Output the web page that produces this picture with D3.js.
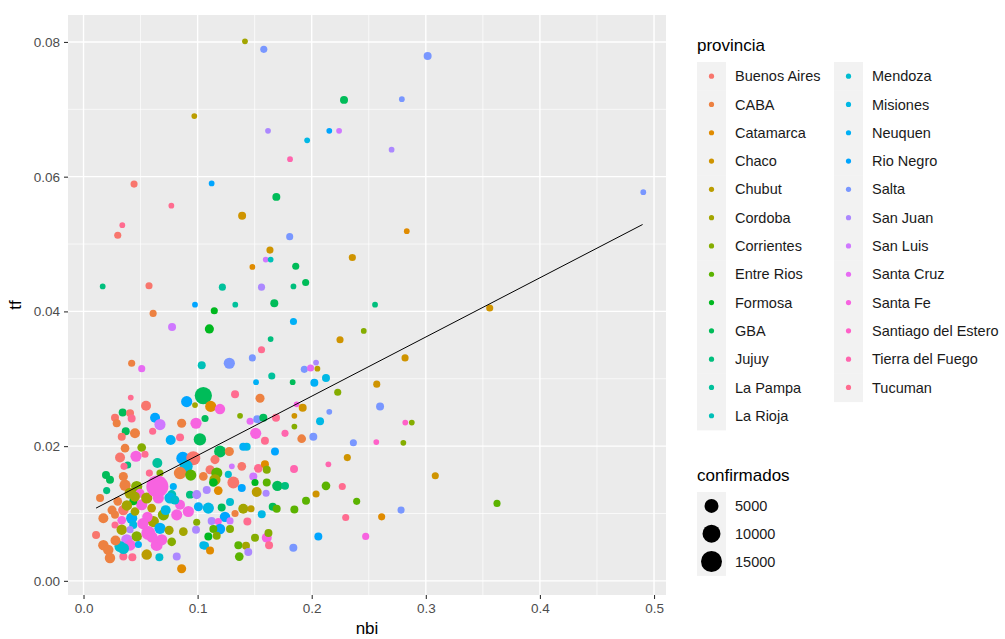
<!DOCTYPE html>
<html>
<head>
<meta charset="utf-8">
<script src="https://cdn.jsdelivr.net/npm/d3@7"></script>
<style>
  body { margin: 0; background: #fff; }
  text { font-family: "Liberation Sans", Arial, sans-serif; }
</style>
</head>
<body>
<svg id="chart" width="1005" height="639"></svg>
<script>
// Legend categories (ggplot factor order)
const provincias = ["Buenos Aires", "CABA", "Catamarca", "Chaco", "Chubut", "Cordoba",
  "Corrientes", "Entre Rios", "Formosa", "GBA", "Jujuy", "La Pampa", "La Rioja",
  "Mendoza", "Misiones", "Neuquen", "Rio Negro", "Salta", "San Juan", "San Luis",
  "Santa Cruz", "Santa Fe", "Santiago del Estero", "Tierra del Fuego", "Tucuman"];

// [nbi, tf, provincia, confirmados]
const puntos = [
  [0.1415, 0.0801, "Cordoba", 100], [0.158, 0.0789, "Salta", 400], [0.0971, 0.0690, "Chubut", 100],
  [0.1617, 0.0668, "San Juan", 100], [0.196, 0.0654, "Misiones", 100], [0.2154, 0.0668, "Rio Negro", 100],
  [0.224, 0.0668, "San Luis", 100], [0.181, 0.0626, "Tierra del Fuego", 100], [0.0443, 0.0589, "Buenos Aires", 400],
  [0.1123, 0.0590, "Rio Negro", 100], [0.169, 0.0570, "GBA", 700], [0.077, 0.0557, "Tucuman", 100],
  [0.139, 0.0542, "Chaco", 700], [0.034, 0.0528, "Tucuman", 100], [0.030, 0.0513, "Buenos Aires", 400],
  [0.1807, 0.0511, "Salta", 400], [0.1634, 0.0491, "Chaco", 400], [0.1597, 0.0477, "San Luis", 100],
  [0.164, 0.0477, "La Rioja", 100], [0.148, 0.0466, "Catamarca", 100], [0.186, 0.0467, "GBA", 400],
  [0.0168, 0.0437, "Jujuy", 100], [0.0574, 0.0438, "Buenos Aires", 400], [0.1217, 0.0436, "La Pampa", 400],
  [0.156, 0.0436, "San Juan", 400], [0.184, 0.0437, "Jujuy", 100], [0.1947, 0.0443, "GBA", 400],
  [0.0977, 0.0410, "Rio Negro", 100], [0.133, 0.0410, "La Pampa", 100], [0.1672, 0.0412, "GBA", 700],
  [0.1146, 0.0401, "Formosa", 400], [0.061, 0.0397, "CABA", 400], [0.184, 0.0385, "Neuquen", 400],
  [0.3016, 0.0779, "Salta", 700], [0.2283, 0.0714, "GBA", 700], [0.279, 0.0715, "Salta", 100],
  [0.270, 0.0640, "San Juan", 100], [0.4906, 0.0577, "Salta", 100], [0.2833, 0.0519, "Catamarca", 100],
  [0.2356, 0.0480, "Chaco", 400], [0.2555, 0.0410, "Jujuy", 100], [0.356, 0.0405, "Chaco", 400],
  [0.2456, 0.0371, "Corrientes", 100], [0.2248, 0.0358, "Chaco", 400], [0.2818, 0.0331, "Chaco", 400],
  [0.257, 0.0292, "Chaco", 400], [0.2228, 0.0280, "Corrientes", 400], [0.2154, 0.0251, "Salta", 100],
  [0.2599, 0.0259, "Salta", 700], [0.282, 0.0235, "Santiago del Estero", 100], [0.2877, 0.0235, "Corrientes", 100],
  [0.2365, 0.0205, "Salta", 400], [0.2566, 0.0206, "Santiago del Estero", 100], [0.2803, 0.0205, "Corrientes", 100],
  [0.2312, 0.0183, "Chaco", 400], [0.3083, 0.0156, "Chaco", 400], [0.2268, 0.0140, "Tucuman", 400],
  [0.2394, 0.0118, "Entre Rios", 400], [0.3624, 0.0115, "Entre Rios", 400], [0.2783, 0.0105, "Salta", 400],
  [0.2298, 0.0094, "Tucuman", 400], [0.2613, 0.0095, "Catamarca", 400], [0.2473, 0.0066, "Santa Fe", 400],
  [0.0776, 0.0377, "San Luis", 700], [0.0422, 0.0323, "CABA", 400], [0.051, 0.0315, "Santa Cruz", 400],
  [0.1036, 0.0320, "La Rioja", 700], [0.0414, 0.0272, "Tucuman", 100], [0.0548, 0.0260, "Buenos Aires", 1700],
  [0.0904, 0.0266, "Rio Negro", 2500], [0.0977, 0.0261, "Cordoba", 100],
  [0.1103, 0.0374, "Formosa", 1200], [0.164, 0.0359, "Jujuy", 100], [0.156, 0.0343, "Tucuman", 400],
  [0.148, 0.0331, "Salta", 400], [0.1278, 0.0323, "Salta", 2500], [0.1935, 0.0314, "Salta", 400],
  [0.199, 0.0316, "Santa Cruz", 400], [0.2038, 0.0324, "San Juan", 100], [0.205, 0.0315, "Chubut", 100],
  [0.165, 0.0304, "La Pampa", 400], [0.1512, 0.0295, "Neuquen", 100], [0.1833, 0.0295, "GBA", 100],
  [0.2023, 0.0294, "Neuquen", 700], [0.2125, 0.0301, "Misiones", 700], [0.105, 0.0275, "GBA", 9000],
  [0.1328, 0.0277, "Tucuman", 700], [0.1547, 0.0271, "CABA", 1200], [0.1115, 0.0259, "Catamarca", 2500],
  [0.1196, 0.0255, "Santa Fe", 2000], [0.1868, 0.0262, "Santa Fe", 100], [0.1921, 0.0257, "Chaco", 700],
  [0.0343, 0.0250, "GBA", 700], [0.0276, 0.0242, "Buenos Aires", 700], [0.0408, 0.0249, "Buenos Aires", 700],
  [0.0422, 0.0241, "Tucuman", 700], [0.0291, 0.0234, "CABA", 700], [0.0627, 0.0242, "Rio Negro", 1700],
  [0.067, 0.0232, "San Luis", 2500], [0.086, 0.0234, "CABA", 1200], [0.0986, 0.0234, "Santa Fe", 2500],
  [0.037, 0.0222, "GBA", 700], [0.0335, 0.0214, "Buenos Aires", 700], [0.0451, 0.0219, "CABA", 1700],
  [0.0606, 0.0222, "Tucuman", 400], [0.0764, 0.0209, "Neuquen", 1700], [0.0846, 0.0213, "Tucuman", 700],
  [0.102, 0.0210, "GBA", 3500], [0.0364, 0.0197, "CABA", 1000], [0.051, 0.0198, "Corrientes", 1000],
  [0.032, 0.0183, "Buenos Aires", 1700], [0.046, 0.0185, "Santa Fe", 2500], [0.0539, 0.0188, "Tucuman", 400],
  [0.0387, 0.0172, "Jujuy", 400], [0.0355, 0.0170, "Tucuman", 400], [0.0647, 0.0175, "La Pampa", 1700],
  [0.087, 0.0182, "Rio Negro", 4000], [0.0962, 0.0182, "Buenos Aires", 5000], [0.090, 0.0170, "Misiones", 4000],
  [0.0577, 0.0160, "Tucuman", 400], [0.067, 0.0160, "Corrientes", 400], [0.0846, 0.0160, "CABA", 3500],
  [0.094, 0.0157, "Entre Rios", 2500], [0.0197, 0.0157, "GBA", 700], [0.0232, 0.0150, "GBA", 700],
  [0.0349, 0.0155, "CABA", 1200], [0.0364, 0.0142, "CABA", 2500], [0.0466, 0.0140, "Corrientes", 2500],
  [0.0787, 0.0140, "Neuquen", 400], [0.0203, 0.0134, "Jujuy", 400],
  [0.0408, 0.0130, "Cordoba", 2500], [0.0495, 0.0130, "Santa Fe", 1200], [0.0773, 0.0128, "La Rioja", 1200],
  [0.0933, 0.0128, "Jujuy", 700], [0.0992, 0.0128, "San Juan", 1200], [0.0145, 0.0123, "CABA", 700],
  [0.1065, 0.0241, "GBA", 400], [0.1372, 0.0245, "Corrientes", 100], [0.146, 0.0237, "Santa Cruz", 400],
  [0.1523, 0.0240, "Salta", 700], [0.1576, 0.0242, "GBA", 700], [0.1687, 0.0242, "Tucuman", 700],
  [0.1848, 0.0245, "Chaco", 100], [0.1848, 0.0229, "Corrientes", 100], [0.2073, 0.0237, "Misiones", 700],
  [0.1509, 0.0219, "Santa Fe", 2500], [0.159, 0.0208, "Tucuman", 700], [0.1766, 0.0219, "Tierra del Fuego", 400],
  [0.1912, 0.0211, "CABA", 1000], [0.2014, 0.0214, "Salta", 700], [0.143, 0.0199, "Misiones", 700],
  [0.14, 0.0199, "Neuquen", 700], [0.1678, 0.0192, "Rio Negro", 700], [0.1196, 0.0192, "GBA", 3000],
  [0.1278, 0.0192, "CABA", 1200], [0.1152, 0.0180, "Buenos Aires", 1200], [0.13, 0.0170, "San Luis", 100],
  [0.1387, 0.0170, "Buenos Aires", 1000], [0.1532, 0.0167, "Tucuman", 1000], [0.159, 0.0173, "Catamarca", 700],
  [0.1606, 0.0165, "Corrientes", 700], [0.1845, 0.0166, "Tierra del Fuego", 700], [0.2146, 0.0173, "Tierra del Fuego", 100],
  [0.1109, 0.0165, "Buenos Aires", 1200], [0.1168, 0.0160, "Entre Rios", 2500], [0.1152, 0.0150, "Cordoba", 2500],
  [0.1269, 0.0158, "Mendoza", 400], [0.105, 0.0155, "CABA", 1000], [0.1488, 0.0155, "San Luis", 700],
  [0.1313, 0.0146, "Buenos Aires", 3000], [0.1138, 0.0146, "Formosa", 1000], [0.1503, 0.0146, "Formosa", 400],
  [0.1606, 0.0146, "Entre Rios", 700], [0.1699, 0.0141, "GBA", 2000], [0.1766, 0.0141, "Jujuy", 700],
  [0.1387, 0.0138, "Rio Negro", 700], [0.108, 0.0135, "San Juan", 700], [0.1181, 0.0134, "Catamarca", 1000],
  [0.1518, 0.0132, "Chubut", 1700], [0.160, 0.0130, "San Juan", 400], [0.2038, 0.0129, "Chaco", 400],
  [0.2125, 0.0141, "Entre Rios", 1000],
  [0.0174, 0.0093, "CABA", 1700], [0.011, 0.0068, "Buenos Aires", 700], [0.0276, 0.0098, "CABA", 700],
  [0.0349, 0.0105, "Buenos Aires", 2000], [0.0335, 0.0090, "Santa Fe", 1000], [0.0276, 0.0083, "Tucuman", 400],
  [0.0422, 0.0093, "Neuquen", 2500], [0.0436, 0.0083, "Misiones", 700], [0.0335, 0.0076, "Cordoba", 2000],
  [0.0408, 0.0076, "San Juan", 400], [0.0451, 0.0103, "Cordoba", 1000], [0.051, 0.0113, "Santa Fe", 2500],
  [0.0436, 0.0118, "Formosa", 700], [0.0597, 0.0108, "Chubut", 1000], [0.0554, 0.0123, "Cordoba", 2500],
  [0.0656, 0.0123, "Santa Fe", 2500], [0.0758, 0.0123, "Misiones", 2500], [0.0612, 0.0088, "Cordoba", 2500],
  [0.067, 0.0078, "Neuquen", 2500], [0.0466, 0.0066, "Corrientes", 2000],
  [0.0379, 0.0061, "San Luis", 2500], [0.032, 0.0051, "Mendoza", 2500], [0.0408, 0.0053, "Santa Fe", 2500],
  [0.0481, 0.0054, "Neuquen", 400], [0.0641, 0.0053, "Santa Fe", 3000], [0.0685, 0.0061, "Santa Fe", 2500],
  [0.0174, 0.0053, "CABA", 2000], [0.0217, 0.0046, "CABA", 2000], [0.0232, 0.0034, "CABA", 2000],
  [0.0349, 0.0036, "Tucuman", 700], [0.0428, 0.0035, "Tucuman", 700], [0.0554, 0.0039, "Chubut", 2000],
  [0.0665, 0.0035, "Mendoza", 700], [0.0817, 0.0036, "San Juan", 700], [0.086, 0.0018, "Catamarca", 1200],
  [0.0773, 0.0058, "Corrientes", 1000], [0.0875, 0.0073, "Cordoba", 1000], [0.0986, 0.0076, "San Juan", 700],
  [0.0992, 0.0087, "Corrientes", 400], [0.1050, 0.0053, "Misiones", 700], [0.0817, 0.0098, "Santa Fe", 2500],
  [0.0919, 0.0103, "Santa Fe", 2500], [0.1007, 0.0110, "Neuquen", 1200], [0.0700, 0.0098, "Corrientes", 2500],
  [0.0846, 0.0113, "Santa Fe", 1700], [0.0568, 0.0071, "Santa Fe", 5000],
  [0.025, 0.0105, "CABA", 1200], [0.030, 0.0118, "CABA", 1000], [0.038, 0.0112, "Cordoba", 2000],
  [0.045, 0.0125, "Cordoba", 1700], [0.056, 0.0095, "Santa Fe", 2000], [0.052, 0.0085, "Santa Fe", 2500],
  [0.060, 0.0065, "Santa Fe", 2500], [0.075, 0.0075, "Cordoba", 1200], [0.072, 0.0105, "Misiones", 1700],
  [0.080, 0.0120, "Mendoza", 1200], [0.035, 0.0048, "Mendoza", 2500], [0.028, 0.0060, "CABA", 1700],
  [0.1094, 0.0108, "Misiones", 2500], [0.1211, 0.0109, "GBA", 700], [0.1284, 0.0117, "Mendoza", 700],
  [0.14, 0.0107, "Cordoba", 1700], [0.1468, 0.0107, "Chubut", 400], [0.1562, 0.0099, "Misiones", 700],
  [0.1658, 0.0110, "GBA", 700], [0.1693, 0.0107, "Entre Rios", 700], [0.1848, 0.0106, "Entre Rios", 700],
  [0.195, 0.0119, "Entre Rios", 700], [0.1328, 0.0100, "CABA", 400], [0.124, 0.0095, "Rio Negro", 2000],
  [0.1123, 0.0089, "San Juan", 700], [0.1181, 0.0088, "Santa Fe", 400], [0.1284, 0.0089, "San Luis", 400],
  [0.1436, 0.0088, "Tucuman", 700], [0.1196, 0.0077, "Rio Negro", 2000], [0.1138, 0.0077, "Entre Rios", 700],
  [0.1284, 0.0077, "Corrientes", 700], [0.1094, 0.0066, "Formosa", 700], [0.1167, 0.0067, "Corrientes", 700],
  [0.1503, 0.0064, "Corrientes", 700], [0.1606, 0.0064, "Santa Fe", 1700], [0.1621, 0.0071, "Corrientes", 700],
  [0.1626, 0.0053, "Tucuman", 700], [0.1065, 0.0052, "Misiones", 700], [0.1109, 0.0045, "Catamarca", 700],
  [0.1357, 0.0053, "Entre Rios", 700], [0.1424, 0.0052, "Cordoba", 700], [0.1365, 0.0036, "Entre Rios", 1000],
  [0.1444, 0.0043, "San Juan", 700], [0.1839, 0.0049, "Salta", 700], [0.2058, 0.0066, "Rio Negro", 700],
  [0.0647, 0.0140, "Santa Fe", 17000]
];

// fitted line (lm) end points
const ajusteNbi = [0.011, 0.49];
const ajusteTf = [0.0108, 0.0529];

const xTicks = [0, 0.1, 0.2, 0.3, 0.4, 0.5];
const xMinor = [0.05, 0.15, 0.25, 0.35, 0.45];
const yTicks = [0, 0.02, 0.04, 0.06, 0.08];
const yMinor = [0.01, 0.03, 0.05, 0.07];
const tallas = [5000, 10000, 15000];

// R's hcl(): polar CIE-LUV -> sRGB, used for ggplot's default hue palette
function hclLuv(h, c, l) {
  const un = 0.1978398, vn = 0.4683363;
  const hr = h * Math.PI / 180;
  const U = c * Math.cos(hr), V = c * Math.sin(hr);
  const Y = l > 7.999592 ? 100 * Math.pow((l + 16) / 116, 3) : 100 * l / 903.3;
  const u = U / (13 * l) + un, v = V / (13 * l) + vn;
  const X = 9 * Y * u / (4 * v);
  const Z = -X / 3 - 5 * Y + 3 * Y / v;
  const g = t => {
    t = t > 0.00304 ? 1.055 * Math.pow(t, 1 / 2.4) - 0.055 : 12.92 * t;
    return Math.round(255 * Math.max(0, Math.min(1, t)));
  };
  return d3.rgb(g((3.240479 * X - 1.537150 * Y - 0.498535 * Z) / 100),
                g((-0.969256 * X + 1.875992 * Y + 0.041556 * Z) / 100),
                g((0.055648 * X - 0.204043 * Y + 1.057311 * Z) / 100)).formatHex();
}

const n = provincias.length;
const color = d3.scaleOrdinal()
  .domain(provincias)
  .range(provincias.map((p, i) => hclLuv(15 + i * 360 / n, 100, 65)));

const panel = { left: 68, right: 666, top: 15, bottom: 595 };

const x = d3.scaleLinear().domain([-0.0136, 0.5105]).range([panel.left, panel.right]);
const y = d3.scaleLinear().domain([-0.0021, 0.0840]).range([panel.bottom, panel.top]);
const r = d3.scaleSqrt().domain([0, 15000]).range([2.2, 10.5]);

const svg = d3.select('#chart');

// panel background + grid
svg.append('rect')
  .attr('x', panel.left).attr('y', panel.top)
  .attr('width', panel.right - panel.left).attr('height', panel.bottom - panel.top)
  .attr('fill', '#EBEBEB');

const grid = svg.append('g');
grid.selectAll('.xmin').data(xMinor).join('line')
  .attr('x1', d => x(d)).attr('x2', d => x(d))
  .attr('y1', panel.top).attr('y2', panel.bottom)
  .attr('stroke', '#fff').attr('stroke-width', 0.7);
grid.selectAll('.ymin').data(yMinor).join('line')
  .attr('y1', d => y(d)).attr('y2', d => y(d))
  .attr('x1', panel.left).attr('x2', panel.right)
  .attr('stroke', '#fff').attr('stroke-width', 0.7);
grid.selectAll('.xmaj').data(xTicks).join('line')
  .attr('x1', d => x(d)).attr('x2', d => x(d))
  .attr('y1', panel.top).attr('y2', panel.bottom)
  .attr('stroke', '#fff').attr('stroke-width', 1.4);
grid.selectAll('.ymaj').data(yTicks).join('line')
  .attr('y1', d => y(d)).attr('y2', d => y(d))
  .attr('x1', panel.left).attr('x2', panel.right)
  .attr('stroke', '#fff').attr('stroke-width', 1.4);

// points
svg.append('g').selectAll('circle')
  .data(puntos)
  .join('circle')
  .attr('cx', d => x(d[0]))
  .attr('cy', d => y(d[1]))
  .attr('r', d => r(d[3]))
  .attr('fill', d => color(d[2]));

// fitted line
svg.append('path')
  .datum(d3.zip(ajusteNbi, ajusteTf))
  .attr('d', d3.line().x(d => x(d[0])).y(d => y(d[1])))
  .attr('fill', 'none')
  .attr('stroke', '#000')
  .attr('stroke-width', 1);

// axes
const xAxis = svg.append('g')
  .attr('transform', `translate(0,${panel.bottom})`)
  .call(d3.axisBottom(x).tickValues(xTicks).tickFormat(d3.format('.1f')).tickSize(4).tickPadding(4));
const yAxis = svg.append('g')
  .attr('transform', `translate(${panel.left},0)`)
  .call(d3.axisLeft(y).tickValues(yTicks).tickFormat(d3.format('.2f')).tickSize(4).tickPadding(4));
[xAxis, yAxis].forEach(a => {
  a.select('.domain').remove();
  a.selectAll('line').attr('stroke', '#333').attr('stroke-width', 1.1);
  a.selectAll('text').attr('fill', '#4D4D4D').style('font-size', '13.5px')
    .style('font-family', '"Liberation Sans", Arial, sans-serif');
});

svg.append('text')
  .attr('x', (panel.left + panel.right) / 2).attr('y', 634)
  .attr('text-anchor', 'middle').style('font-size', '17px').text('nbi');
svg.append('text')
  .attr('transform', `translate(21,${(panel.top + panel.bottom) / 2}) rotate(-90)`)
  .attr('text-anchor', 'middle').style('font-size', '17px').text('tf');

// colour legend
const legend = svg.append('g');
legend.append('text').attr('x', 697).attr('y', 51).style('font-size', '17px').text('provincia');
const rowH = 28.3, keyTop = 62;
const porColumna = Math.ceil(n / 2);
provincias.forEach((p, i) => {
  const col = Math.floor(i / porColumna), row = i % porColumna;
  const kx = col === 0 ? 697 : 834;
  const ky = keyTop + row * rowH;
  legend.append('rect').attr('x', kx).attr('y', ky).attr('width', 29).attr('height', rowH + 0.5)
    .attr('fill', '#F2F2F2');
  legend.append('circle').attr('cx', kx + 14.5).attr('cy', ky + rowH / 2).attr('r', 2.6)
    .attr('fill', color(p));
  legend.append('text').attr('x', kx + 38).attr('y', ky + rowH / 2).attr('dy', '0.35em')
    .style('font-size', '14.5px').attr('fill', '#1A1A1A').text(p);
});

// size legend
legend.append('text').attr('x', 697).attr('y', 481).style('font-size', '17px').text('confirmados');
tallas.forEach((t, i) => {
  const ky = 492 + i * 27.8;
  legend.append('rect').attr('x', 697).attr('y', ky).attr('width', 29).attr('height', 28.3)
    .attr('fill', '#F2F2F2');
  legend.append('circle').attr('cx', 711.5).attr('cy', ky + 13.9).attr('r', r(t)).attr('fill', '#000');
  legend.append('text').attr('x', 735).attr('y', ky + 13.9).attr('dy', '0.35em')
    .style('font-size', '14.5px').attr('fill', '#1A1A1A').text(t);
});
</script>
</body>
</html>
